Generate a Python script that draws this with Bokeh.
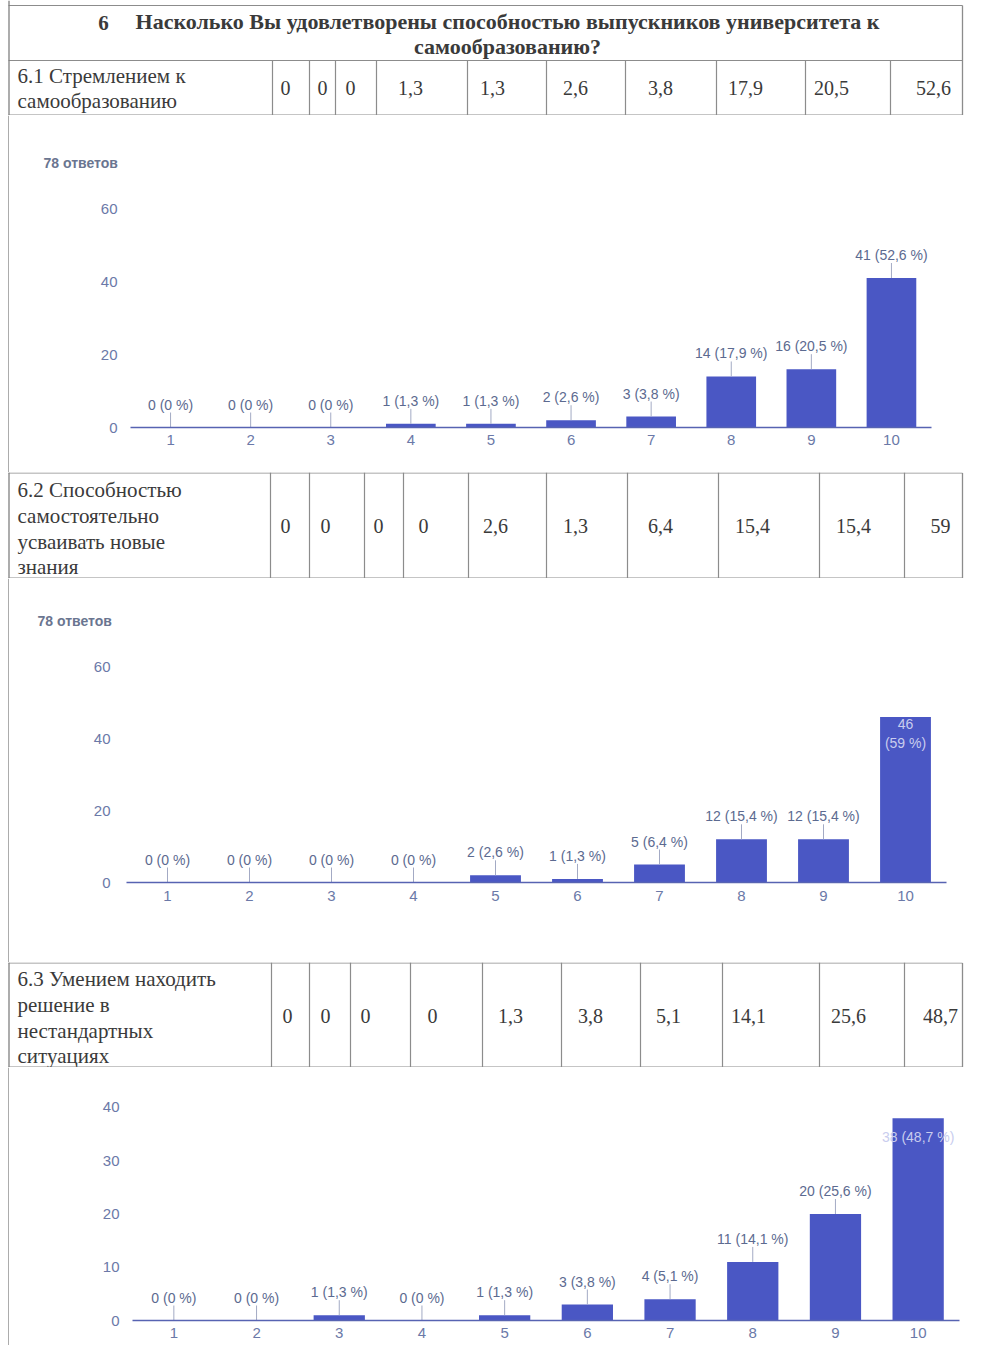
from bokeh.plotting import figure
from bokeh.models import Range1d, FixedTicker
from bokeh.layouts import column, row
from bokeh.embed import file_html
from bokeh.resources import INLINE
from bokeh.core.properties import value

# ---------------- data ----------------
question_num = "6"
question_lines = ["Насколько Вы удовлетворены способностью выпускников университета к",
                  "самообразованию?"]
scale = [1, 2, 3, 4, 5, 6, 7, 8, 9, 10]

label_61 = ["6.1 Стремлением к", "самообразованию"]
table_61 = [0, 0, 0, 1.3, 1.3, 2.6, 3.8, 17.9, 20.5, 52.6]
counts_61 = [0, 0, 0, 1, 1, 2, 3, 14, 16, 41]
pct_61 = [0, 0, 0, 1.3, 1.3, 2.6, 3.8, 17.9, 20.5, 52.6]

label_62 = ["6.2 Способностью", "самостоятельно", "усваивать новые", "знания"]
table_62 = [0, 0, 0, 0, 2.6, 1.3, 6.4, 15.4, 15.4, 59]
counts_62 = [0, 0, 0, 0, 2, 1, 5, 12, 12, 46]
pct_62 = [0, 0, 0, 0, 2.6, 1.3, 6.4, 15.4, 15.4, 59]

label_63 = ["6.3 Умением находить", "решение в", "нестандартных", "ситуациях"]
table_63 = [0, 0, 0, 0, 1.3, 3.8, 5.1, 14.1, 25.6, 48.7]
counts_63 = [0, 0, 1, 0, 1, 3, 4, 11, 20, 38]
pct_63 = [0, 0, 1.3, 0, 1.3, 3.8, 5.1, 14.1, 25.6, 48.7]

responses_label = "78 ответов"
ticks_a = [0, 20, 40, 60]
ticks_b = [0, 10, 20, 30, 40]

# ---------------- styles ----------------
W = 972
EDGE = 9          # width of the strip holding the page's left rule
SERIF = value("Liberation Serif")
SANS = value("Liberation Sans")
INK = "#3a3a3a"
RULE = "#8c8c8c"
BAR = "#4a57c4"
AXIS = "#5763b2"
TICK = "#6b79a8"
LABEL = "#5c6a90"


def fmt(v):
    return f"{v:g}".replace(".", ",")


def base(width, height, **kw):
    p = figure(width=width, height=height, output_backend="svg",
               toolbar_location=None, **kw)
    p.frame_align = False
    p.outline_line_color = None
    p.grid.visible = False
    return p


def table_fig(height, label_lines, label_ys, values, value_y, row_top,
              col_lines, text_xs, top_line=None, title=False):
    p = base(W, height, x_range=Range1d(0, W), y_range=Range1d(height, 0),
             x_axis_type=None, y_axis_type=None, min_border=0)
    hy = [0.5 if top_line is None else top_line, height - 0.5]
    if title:
        hy.append(row_top)
    p.segment(x0=[8] * len(hy), x1=[962] * len(hy), y0=hy, y1=hy,
              line_color=RULE, line_width=1.2)
    y_top = hy[0]
    p.segment(x0=[8.5, 962], x1=[8.5, 962], y0=[0, y_top], y1=[height, height],
              line_color=["#808080", RULE], line_width=1.3)
    p.segment(x0=col_lines, x1=col_lines, y0=[row_top] * len(col_lines),
              y1=[height] * len(col_lines), line_color=RULE, line_width=1.2)
    p.text(x=[17] * len(label_lines), y=label_ys, text=label_lines,
           text_font=SERIF, text_font_size="21px", text_color=INK,
           text_baseline="middle", text_align="left")
    p.text(x=text_xs, y=[value_y] * len(values), text=[fmt(v) for v in values],
           text_font=SERIF, text_font_size="20px", text_color=INK,
           text_baseline="middle", text_align="center")
    if title:
        p.text(x=[103], y=[22], text=[question_num], text_font=SERIF,
               text_font_size="21px", text_font_style="bold", text_color=INK,
               text_baseline="middle", text_align="center")
        p.text(x=[507, 507], y=[21, 46], text=question_lines, text_font=SERIF,
               text_font_size="22px", text_font_style="bold", text_color=INK,
               text_baseline="middle", text_align="center")
    return p


def edge_fig(height):
    p = base(EDGE, height, x_range=Range1d(0, EDGE), y_range=Range1d(0, height),
             x_axis_type=None, y_axis_type=None, min_border=0)
    p.segment(x0=[8.5], x1=[8.5], y0=[0], y1=[height], line_color="#808080",
              line_width=1.3)
    return p


def bar_fig(height, left, right, top, bottom, y_end, ticks, counts, pcts,
            show_count=True, title_offset=-87, title_standoff=38, wrap_inside=False,
            x_standoff=8, y_standoff=13):
    p = base(W - EDGE, height, x_range=Range1d(0.5, 10.5), y_range=Range1d(0, y_end),
             min_border_left=left, min_border_right=right,
             min_border_top=top, min_border_bottom=bottom)
    if show_count:
        p.title.text = responses_label
        p.title.align = "left"
        p.title.offset = title_offset
        p.title.standoff = title_standoff
        p.title.text_font = "Liberation Sans"
        p.title.text_font_size = "14px"
        p.title.text_font_style = "bold"
        p.title.text_color = "#6a7590"

    ppu = (height - top - bottom) / y_end

    p.vbar(x=scale, top=counts, width=0.62, fill_color=BAR, line_color=None)

    out_x, out_y, out_t, seg_x, seg_y0, seg_y1 = [], [], [], [], [], []
    in_x, in_y, in_t = [], [], []
    for x, c, pc in zip(scale, counts, pcts):
        lab = f"{c} ({fmt(pc)} %)"
        if c > 0.7 * y_end:
            in_x.append(x)
            in_y.append(c - (19 if not wrap_inside else 17) / ppu)
            in_t.append(lab.replace(" (", "\n(") if wrap_inside else lab)
        else:
            out_x.append(x)
            out_y.append(c + 23 / ppu)
            out_t.append(lab)
            seg_x.append(x)
            seg_y0.append(c)
            seg_y1.append(c + 15 / ppu)
    p.segment(x0=seg_x, x1=seg_x, y0=seg_y0, y1=seg_y1, line_color="#a3aac4", line_width=1)
    p.text(x=out_x, y=out_y, text=out_t, text_font=SANS, text_font_size="14px",
           text_color=LABEL, text_align="center", text_baseline="middle")
    if in_x:
        p.text(x=in_x, y=in_y, text=in_t, text_font=SANS, text_font_size="14px",
               text_color="#c9cdee", text_align="center", text_baseline="middle",
               text_line_height=1.2)

    p.xaxis.ticker = FixedTicker(ticks=scale)
    p.xaxis.axis_line_color = AXIS
    p.xaxis.axis_line_width = 1.5
    p.xaxis.major_tick_line_color = None
    p.xaxis.minor_tick_line_color = None
    p.xaxis.major_tick_out = 0
    p.xaxis.major_tick_in = 0
    p.xaxis.major_label_standoff = x_standoff
    p.xaxis.major_label_text_font = "Liberation Sans"
    p.xaxis.major_label_text_font_size = "15px"
    p.xaxis.major_label_text_color = TICK

    p.yaxis.ticker = FixedTicker(ticks=ticks)
    p.yaxis.axis_line_color = None
    p.yaxis.major_tick_line_color = None
    p.yaxis.minor_tick_line_color = None
    p.yaxis.major_tick_out = 0
    p.yaxis.major_tick_in = 0
    p.yaxis.major_label_standoff = y_standoff
    p.yaxis.major_label_text_font = "Liberation Sans"
    p.yaxis.major_label_text_font_size = "15px"
    p.yaxis.major_label_text_color = TICK
    return row(edge_fig(height), p, spacing=0)


t1 = table_fig(115, label_61, [75, 100], table_61, 87, 60,
               [272, 309, 335, 376, 467, 546, 625, 716, 805, 890],
               [285, 322, 350, 410, 492, 575, 660, 745, 831, 933],
               top_line=5, title=True)
c1 = bar_fig(357, 121, 41, 75, 45, 65, ticks_a, counts_61, pct_61,
             title_offset=-87, title_standoff=39, x_standoff=7, y_standoff=13)
t2 = table_fig(106, label_62, [17, 43, 69, 94], table_62, 53, 0,
               [270, 309, 364, 403, 468, 546, 627, 718, 819, 904],
               [285, 325, 378, 423, 495, 575, 660, 752, 853, 940])
c2 = bar_fig(384, 117, 26, 70, 80, 65, ticks_a, counts_62, pct_62,
             title_offset=-89, title_standoff=40, wrap_inside=True,
             x_standoff=8, y_standoff=16)
t3 = table_fig(105, label_63, [16, 42, 68, 93], table_63, 53, 0,
               [271, 309, 350, 410, 482, 561, 640, 722, 819, 904],
               [287, 325, 365, 432, 510, 590, 668, 748, 848, 940])
c3 = bar_fig(278, 123, 13, 24, 25, 43, ticks_b, counts_63, pct_63, show_count=False,
             x_standoff=7, y_standoff=13)

page = column(t1, c1, t2, c2, t3, c3, spacing=0)

open("out.html", "w").write(file_html(page, INLINE))
